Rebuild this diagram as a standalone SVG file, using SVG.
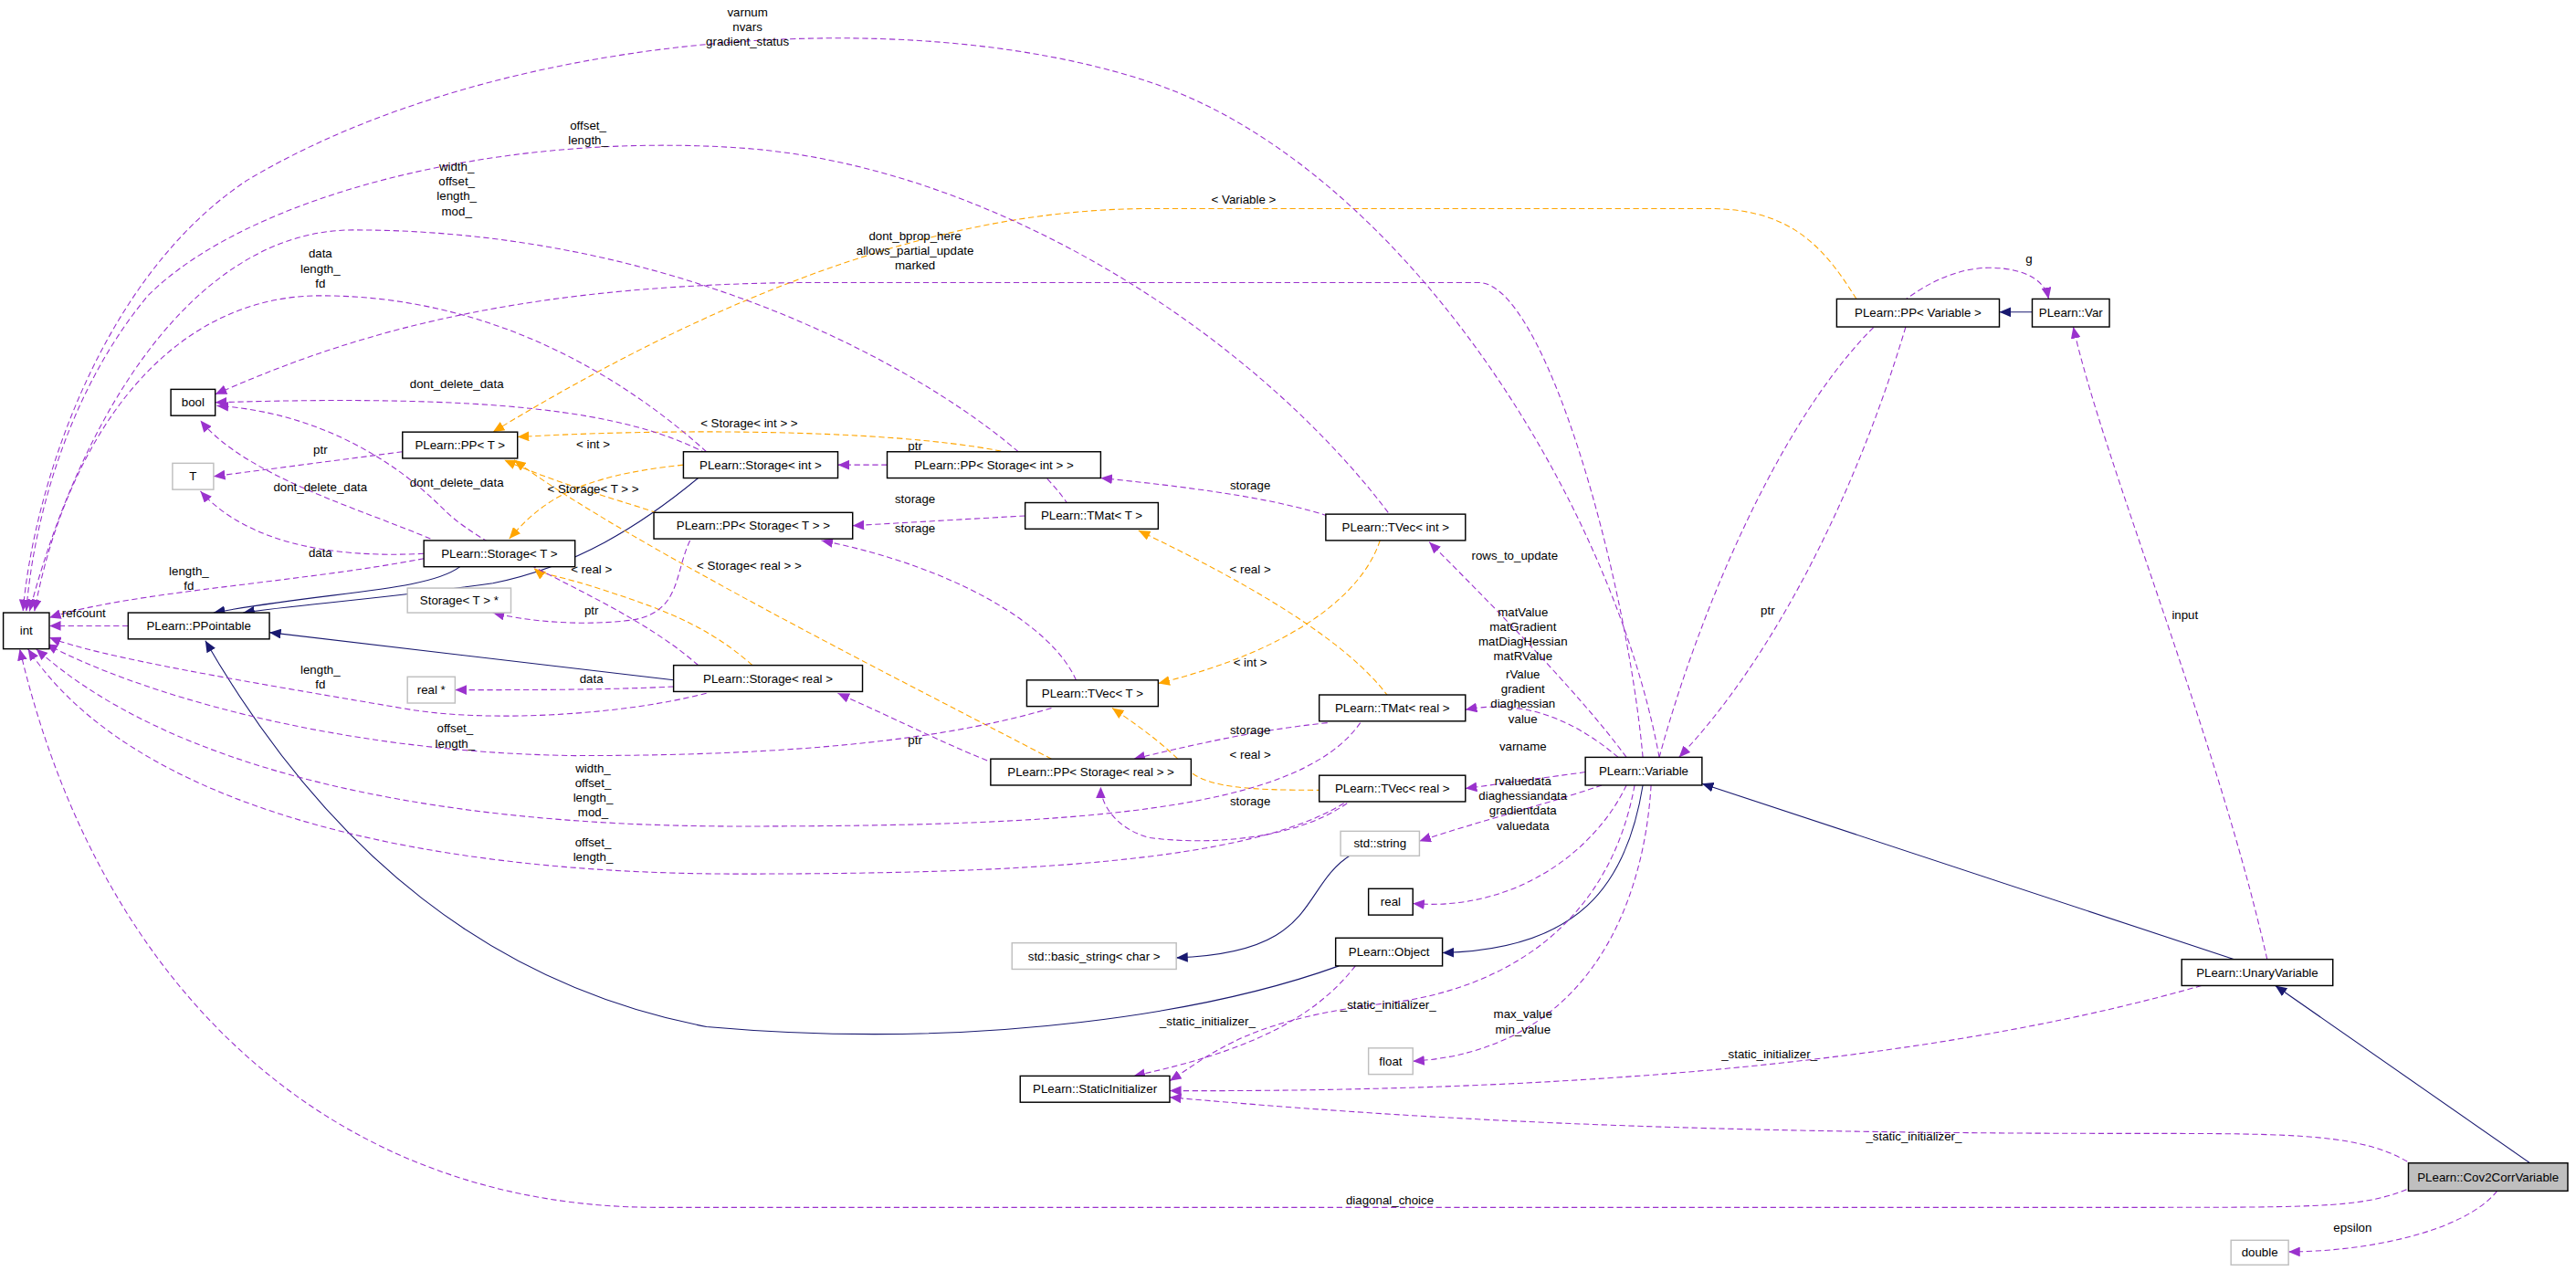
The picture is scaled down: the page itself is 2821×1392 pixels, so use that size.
<svg xmlns="http://www.w3.org/2000/svg" width="2821" height="1392" viewBox="0 0 2821 1392">
<style>
.n rect{fill:#fff;stroke:#000;stroke-width:0.8}
.n.g rect{stroke:#bfbfbf}
.n.c rect{fill:#bfbfbf}
text{font-family:"Liberation Sans",Arial,sans-serif;font-size:7.4px;fill:#000;text-anchor:middle}
.p{fill:none;stroke:#9a32cd;stroke-width:0.6;stroke-dasharray:3.5,2}
.o{fill:none;stroke:#ffa500;stroke-width:0.6;stroke-dasharray:3.5,2}
.b{fill:none;stroke:#191970;stroke-width:0.6}
</style>
<defs>
<marker id="mp" markerUnits="userSpaceOnUse" markerWidth="8" markerHeight="6" refX="7" refY="3" orient="auto"><path d="M0,0L7,3L0,6z" fill="#9a32cd"/></marker>
<marker id="mo" markerUnits="userSpaceOnUse" markerWidth="8" markerHeight="6" refX="7" refY="3" orient="auto"><path d="M0,0L7,3L0,6z" fill="#ffa500"/></marker>
<marker id="mb" markerUnits="userSpaceOnUse" markerWidth="8" markerHeight="6" refX="7" refY="3" orient="auto"><path d="M0,0L7,3L0,6z" fill="#191970"/></marker>
</defs>
<rect width="2821" height="1392" fill="#fff"/>
<g transform="scale(1.7991)">
<g id="connectors">
<!-- navy -->
<path class="b" marker-end="url(#mb)" d="M280,345 C260,360 200,360 130,373"/>
<path class="b" marker-end="url(#mb)" d="M425,291 C390,320 350,345 300,355 C230,365 180,368 148,373"/>
<path class="b" marker-end="url(#mb)" d="M410,414 L164,385"/>
<path class="b" marker-end="url(#mb)" d="M815,588 C740,615 600,640 430,625 C300,600 200,520 125,390"/>
<path class="b" marker-end="url(#mb)" d="M823,520 C790,540 805,580 716,583"/>
<path class="b" marker-end="url(#mb)" d="M1000,478 C990,540 960,578 878,580"/>
<path class="b" marker-end="url(#mb)" d="M1360,584 L1036,477"/>
<path class="b" marker-end="url(#mb)" d="M1540,708 L1385,600"/>
<path class="b" marker-end="url(#mb)" d="M1237,190 L1217,190"/>
<!-- orange -->
<path class="o" marker-end="url(#mo)" d="M1130,182 C1110,150 1090,127 1040,127 L700,127 C560,127 420,190 300,263"/>
<path class="o" marker-end="url(#mo)" d="M620,277 C560,262 420,260 315,266"/>
<path class="o" marker-end="url(#mo)" d="M405,314 C380,305 340,295 307,280"/>
<path class="o" marker-end="url(#mo)" d="M640,462 C560,420 380,330 313,280"/>
<path class="o" marker-end="url(#mo)" d="M416,283 C350,290 330,305 310,328"/>
<path class="o" marker-end="url(#mo)" d="M458,405 C430,380 400,370 370,360 C340,350 330,350 325,346"/>
<path class="o" marker-end="url(#mo)" d="M845,424 C820,390 760,355 693,323"/>
<path class="o" marker-end="url(#mo)" d="M805,481 C760,481 730,480 720,465 C705,450 690,440 677,431"/>
<path class="o" marker-end="url(#mo)" d="M840,329 C830,360 790,395 705,416"/>
<!-- purple -->
<path class="p" marker-end="url(#mp)" d="M1010,461 C980,300 850,100 700,50 C550,0 300,20 150,110 C60,170 20,300 14,372"/>
<path class="p" marker-end="url(#mp)" d="M845,312 C760,200 600,100 450,90 C300,80 150,120 90,180 C40,240 20,320 16,372"/>
<path class="p" marker-end="url(#mp)" d="M650,307 C620,260 450,140 215,140 C120,140 50,250 18,372"/>
<path class="p" marker-end="url(#mp)" d="M430,275 C380,230 300,180 195,180 C100,180 40,270 21,372"/>
<path class="p" marker-end="url(#mp)" d="M258,340 C180,355 80,360 30,376"/>
<path class="p" marker-end="url(#mp)" d="M78,381 L30,381"/>
<path class="p" marker-end="url(#mp)" d="M430,422 C380,435 300,440 250,432 C150,415 60,400 30,388"/>
<path class="p" marker-end="url(#mp)" d="M640,431 C560,455 450,460 350,460 C200,458 80,420 28,392"/>
<path class="p" marker-end="url(#mp)" d="M828,440 C790,495 650,503 450,503 C250,503 100,465 22,395"/>
<path class="p" marker-end="url(#mp)" d="M818,489 C760,525 620,532 450,532 C250,532 80,490 17,395"/>
<path class="p" marker-end="url(#mp)" d="M1470,722 C1440,735 1420,735 1300,735 L400,735 C200,735 60,600 12,395"/>
<path class="p" marker-end="url(#mp)" d="M1000,461 C990,350 940,172 900,172 L500,172 C300,172 200,210 131,240"/>
<path class="p" marker-end="url(#mp)" d="M430,276 C380,250 300,240 131,245"/>
<path class="p" marker-end="url(#mp)" d="M262,328 C220,310 150,290 122,256"/>
<path class="p" marker-end="url(#mp)" d="M425,405 C380,365 300,340 270,310 C230,270 180,250 132,247"/>
<path class="p" marker-end="url(#mp)" d="M245,275 L130,290"/>
<path class="p" marker-end="url(#mp)" d="M258,337 C200,340 150,330 122,299"/>
<path class="p" marker-end="url(#mp)" d="M540,283 L510,283"/>
<path class="p" marker-end="url(#mp)" d="M808,314 C780,305 740,298 670,291"/>
<path class="p" marker-end="url(#mp)" d="M624,314 L519,320"/>
<path class="p" marker-end="url(#mp)" d="M655,414 C640,380 580,345 500,329"/>
<path class="p" marker-end="url(#mp)" d="M420,329 C410,350 415,375 380,378 C350,381 320,378 300,373"/>
<path class="p" marker-end="url(#mp)" d="M410,418 C370,420 320,420 277,420"/>
<path class="p" marker-end="url(#mp)" d="M606,465 C580,455 550,440 510,422"/>
<path class="p" marker-end="url(#mp)" d="M808,440 C760,445 720,455 690,462"/>
<path class="p" marker-end="url(#mp)" d="M820,489 C790,510 740,515 700,510 C680,505 670,490 670,479"/>
<path class="p" marker-end="url(#mp)" d="M990,461 C960,420 900,360 870,330"/>
<path class="p" marker-end="url(#mp)" d="M985,461 C960,440 930,425 892,432"/>
<path class="p" marker-end="url(#mp)" d="M965,470 L892,480"/>
<path class="p" marker-end="url(#mp)" d="M975,478 C940,490 900,500 864,512"/>
<path class="p" marker-end="url(#mp)" d="M990,478 C970,520 920,555 860,550"/>
<path class="p" marker-end="url(#mp)" d="M995,478 C980,560 920,600 850,610 C760,620 740,640 712,658"/>
<path class="p" marker-end="url(#mp)" d="M825,588 C800,620 760,640 690,655"/>
<path class="p" marker-end="url(#mp)" d="M1005,478 C1000,560 960,640 860,646"/>
<path class="p" marker-end="url(#mp)" d="M1340,600 C1200,640 1000,665 712,664"/>
<path class="p" marker-end="url(#mp)" d="M1470,710 C1440,690 1400,690 1300,690 C1000,690 850,680 712,668"/>
<path class="p" marker-end="url(#mp)" d="M1520,725 C1500,750 1440,762 1393,762"/>
<path class="p" marker-end="url(#mp)" d="M1380,584 C1350,450 1280,280 1262,199"/>
<path class="p" marker-end="url(#mp)" d="M1010,461 C1040,350 1120,165 1210,163 C1235,163 1245,172 1247,182"/>
<path class="p" marker-end="url(#mp)" d="M1160,199 C1130,300 1080,400 1022,461"/>
</g>
<g id="edge-labels">
<text x="455" y="10">varnum</text><text x="455" y="19">nvars</text><text x="455" y="28">gradient_status</text>
<text x="358" y="79">offset_</text><text x="358" y="88">length_</text>
<text x="757" y="124">&lt; Variable &gt;</text>
<text x="278" y="104">width_</text><text x="278" y="113">offset_</text><text x="278" y="122">length_</text><text x="278" y="131">mod_</text>
<text x="557" y="146">dont_bprop_here</text><text x="557" y="155">allows_partial_update</text><text x="557" y="164">marked</text>
<text x="195" y="157">data</text><text x="195" y="166">length_</text><text x="195" y="175">fd</text>
<text x="1235" y="160">g</text>
<text x="278" y="236">dont_delete_data</text>
<text x="195" y="276">ptr</text>
<text x="361" y="273">&lt; int &gt;</text>
<text x="278" y="296">dont_delete_data</text>
<text x="195" y="299">dont_delete_data</text>
<text x="456" y="260">&lt; Storage&lt; int &gt; &gt;</text>
<text x="557" y="274">ptr</text>
<text x="361" y="300">&lt; Storage&lt; T &gt; &gt;</text>
<text x="195" y="339">data</text>
<text x="761" y="298">storage</text>
<text x="557" y="306">storage</text>
<text x="557" y="324">storage</text>
<text x="456" y="347">&lt; Storage&lt; real &gt; &gt;</text>
<text x="761" y="349">&lt; real &gt;</text>
<text x="922" y="341">rows_to_update</text>
<text x="1076" y="374">ptr</text>
<text x="1330" y="377">input</text>
<text x="115" y="350">length_</text><text x="115" y="359">fd</text>
<text x="51" y="376">refcount</text>
<text x="360" y="349">&lt; real &gt;</text>
<text x="360" y="374">ptr</text>
<text x="761" y="406">&lt; int &gt;</text>
<text x="927" y="375">matValue</text><text x="927" y="384">matGradient</text><text x="927" y="393">matDiagHessian</text><text x="927" y="402">matRValue</text>
<text x="360" y="416">data</text>
<text x="195" y="410">length_</text><text x="195" y="419">fd</text>
<text x="927" y="413">rValue</text><text x="927" y="422">gradient</text><text x="927" y="431">diaghessian</text><text x="927" y="440">value</text>
<text x="761" y="447">storage</text>
<text x="557" y="453">ptr</text>
<text x="761" y="462">&lt; real &gt;</text>
<text x="277" y="446">offset_</text><text x="277" y="455">length_</text>
<text x="927" y="457">varname</text>
<text x="761" y="490">storage</text>
<text x="927" y="478">rvaluedata</text><text x="927" y="487">diaghessiandata</text><text x="927" y="496">gradientdata</text><text x="927" y="505">valuedata</text>
<text x="361" y="470">width_</text><text x="361" y="479">offset_</text><text x="361" y="488">length_</text><text x="361" y="497">mod_</text>
<text x="361" y="515">offset_</text><text x="361" y="524">length_</text>
<text x="845" y="614">_static_initializer_</text>
<text x="735" y="624">_static_initializer_</text>
<text x="927" y="620">max_value</text><text x="927" y="629">min_value</text>
<text x="1077" y="644">_static_initializer_</text>
<text x="1165" y="694">_static_initializer_</text>
<text x="846" y="733">diagonal_choice</text>
<text x="1432" y="750">epsilon</text>
</g>
<g id="n-bool" class="n"><rect x="104" y="237" width="27" height="16"/><text x="117.5" y="247.5">bool</text></g>
<g id="n-T" class="n g"><rect x="105" y="282" width="25" height="16"/><text x="117.5" y="292.5">T</text></g>
<g id="n-PPT" class="n"><rect x="245" y="263" width="70" height="16"/><text x="280" y="273.5">PLearn::PP&lt; T &gt;</text></g>
<g id="n-StorageInt" class="n"><rect x="416" y="275" width="94" height="16"/><text x="463" y="285.5">PLearn::Storage&lt; int &gt;</text></g>
<g id="n-PPStorageInt" class="n"><rect x="540" y="275" width="130" height="16"/><text x="605" y="285.5">PLearn::PP&lt; Storage&lt; int &gt; &gt;</text></g>
<g id="n-StorageT" class="n"><rect x="258" y="329" width="92" height="16"/><text x="304" y="339.5">PLearn::Storage&lt; T &gt;</text></g>
<g id="n-PPStorageT" class="n"><rect x="398" y="312" width="121" height="16"/><text x="458.5" y="322.5">PLearn::PP&lt; Storage&lt; T &gt; &gt;</text></g>
<g id="n-TMatT" class="n"><rect x="624" y="306" width="81" height="16"/><text x="664.5" y="316.5">PLearn::TMat&lt; T &gt;</text></g>
<g id="n-TVecInt" class="n"><rect x="807" y="313" width="85" height="16"/><text x="849.5" y="323.5">PLearn::TVec&lt; int &gt;</text></g>
<g id="n-int" class="n"><rect x="2" y="373" width="28" height="22"/><text x="16" y="386.5">int</text></g>
<g id="n-PPointable" class="n"><rect x="78" y="373" width="86" height="16"/><text x="121" y="383.5">PLearn::PPointable</text></g>
<g id="n-StorageTptr" class="n g"><rect x="248" y="358" width="63" height="15"/><text x="279.5" y="368">Storage&lt; T &gt; *</text></g>
<g id="n-TVecT" class="n"><rect x="625" y="414" width="80" height="16"/><text x="665" y="424.5">PLearn::TVec&lt; T &gt;</text></g>
<g id="n-TMatReal" class="n"><rect x="803" y="423" width="89" height="16"/><text x="847.5" y="433.5">PLearn::TMat&lt; real &gt;</text></g>
<g id="n-realptr" class="n g"><rect x="248" y="412" width="29" height="16"/><text x="262.5" y="422.5">real *</text></g>
<g id="n-StorageReal" class="n"><rect x="410" y="405" width="115" height="16"/><text x="467.5" y="415.5">PLearn::Storage&lt; real &gt;</text></g>
<g id="n-PPStorageReal" class="n"><rect x="603" y="462" width="122" height="16"/><text x="664" y="472.5">PLearn::PP&lt; Storage&lt; real &gt; &gt;</text></g>
<g id="n-TVecReal" class="n"><rect x="803" y="472" width="89" height="16"/><text x="847.5" y="482.5">PLearn::TVec&lt; real &gt;</text></g>
<g id="n-Variable" class="n"><rect x="965" y="461" width="71" height="17"/><text x="1000.5" y="472">PLearn::Variable</text></g>
<g id="n-string" class="n g"><rect x="816" y="506" width="48" height="15"/><text x="840" y="516">std::string</text></g>
<g id="n-real" class="n"><rect x="833" y="541" width="27" height="16"/><text x="846.5" y="551.5">real</text></g>
<g id="n-basicstring" class="n g"><rect x="616" y="574" width="100" height="16"/><text x="666" y="584.5">std::basic_string&lt; char &gt;</text></g>
<g id="n-Object" class="n"><rect x="813" y="571" width="65" height="17"/><text x="845.5" y="582">PLearn::Object</text></g>
<g id="n-StaticInit" class="n"><rect x="621" y="655" width="91" height="16"/><text x="666.5" y="665.5">PLearn::StaticInitializer</text></g>
<g id="n-float" class="n g"><rect x="833" y="638" width="27" height="16"/><text x="846.5" y="648.5">float</text></g>
<g id="n-PPVariable" class="n"><rect x="1118" y="182" width="99" height="17"/><text x="1167.5" y="193">PLearn::PP&lt; Variable &gt;</text></g>
<g id="n-Var" class="n"><rect x="1237" y="182" width="47" height="17"/><text x="1260.5" y="193">PLearn::Var</text></g>
<g id="n-UnaryVariable" class="n"><rect x="1328" y="584" width="92" height="16"/><text x="1374" y="594.5">PLearn::UnaryVariable</text></g>
<g id="n-Cov2Corr" class="n c"><rect x="1466" y="708" width="97" height="17"/><text x="1514.5" y="719">PLearn::Cov2CorrVariable</text></g>
<g id="n-double" class="n g"><rect x="1358" y="755" width="35" height="15"/><text x="1375.5" y="765">double</text></g>
</g>
</svg>
